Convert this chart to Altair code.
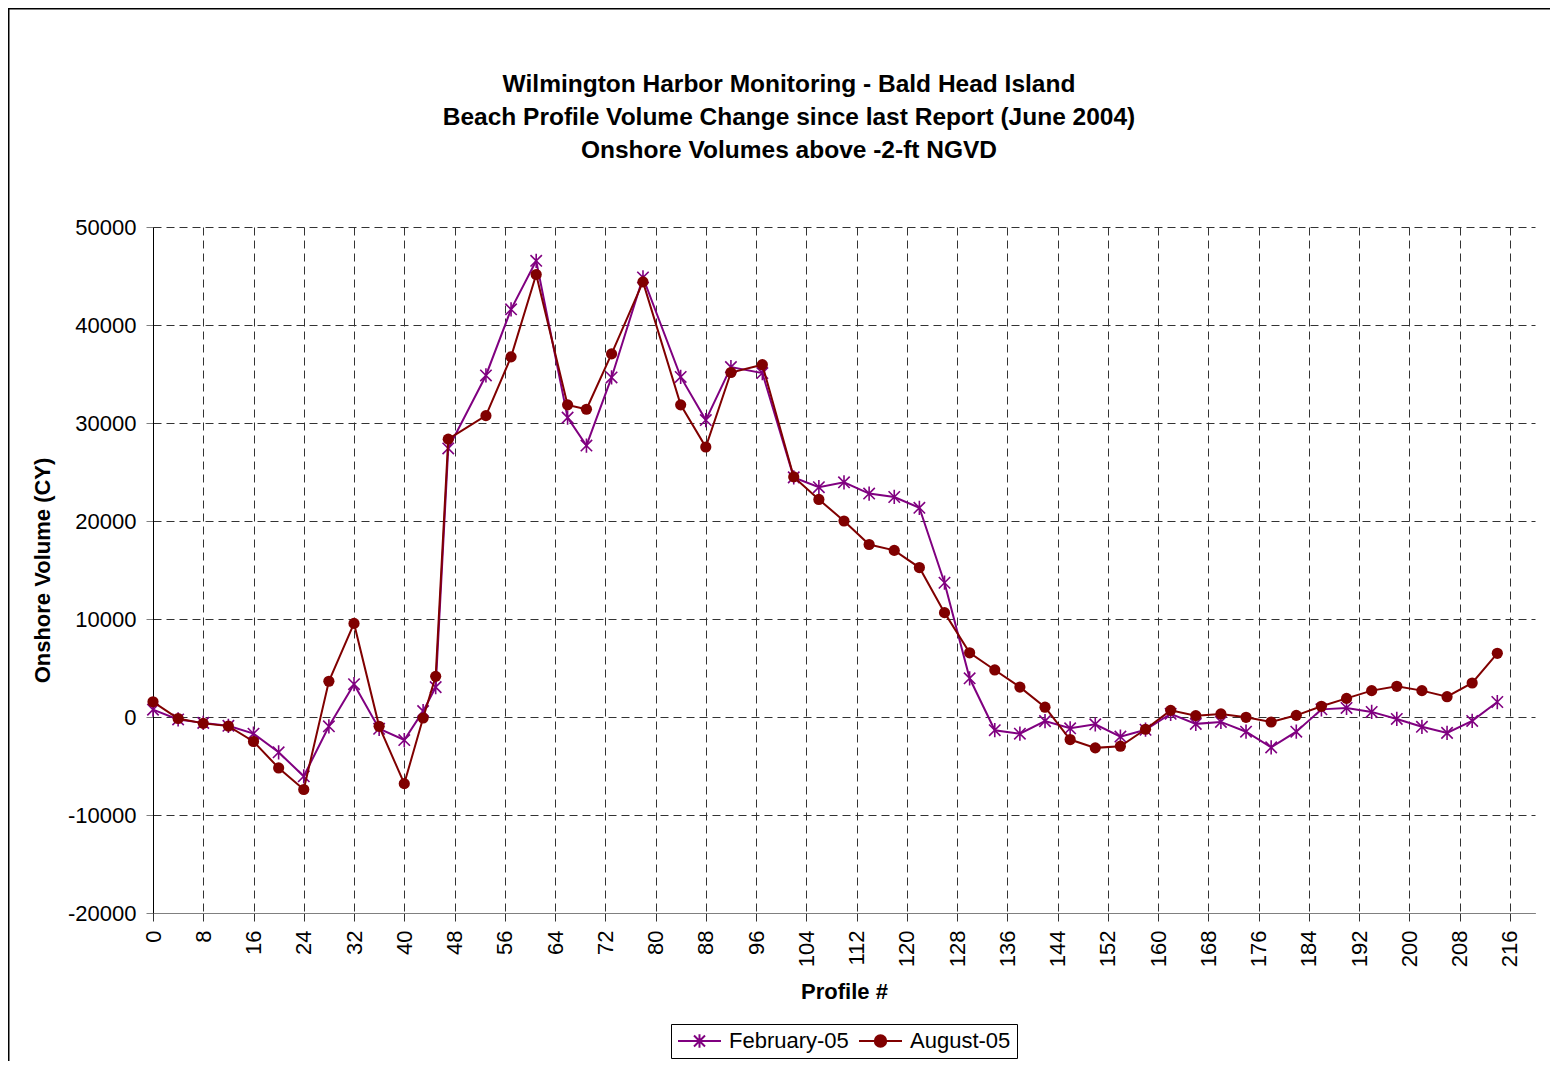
import altair as alt
import pandas as pd

# ---------------- data ----------------
profiles = [0, 4, 8, 12, 16, 20, 24, 28, 32, 36, 40, 43, 45, 47, 53, 57, 61, 66, 69, 73,
            78, 84, 88, 92, 97, 102, 106, 110, 114, 118, 122, 126, 130, 134, 138, 142,
            146, 150, 154, 158, 162, 166, 170, 174, 178, 182, 186, 190, 194, 198, 202,
            206, 210, 214]

feb_05 = [750, -250, -600, -900, -1700, -3600, -6050, -950, 3350, -1200, -2350, 600,
          3050, 27400, 34850, 41600, 46550, 30550, 27700, 34650, 44850, 34700, 30300,
          35700, 35100, 24450, 23450, 23950, 22800, 22450, 21350, 13700, 3950, -1350,
          -1700, -420, -1150, -750, -2000, -1300, 330, -700, -500, -1500, -3100, -1500,
          780, 920, 520, -200, -1000, -1620, -400, 1530]

aug_05 = [1550, -150, -650, -930, -2500, -5200, -7400, 3650, 9550, -950, -6800, -100,
          4150, 28350, 30750, 36750, 45150, 31850, 31400, 37050, 44400, 31850, 27550,
          35150, 35950, 24500, 22200, 20000, 17600, 17000, 15250, 10650, 6550, 4800,
          3050, 1000, -2300, -3150, -2980, -1250, 680, 140, 310, -30, -510, 170, 1090,
          1900, 2690, 3130, 2690, 2070, 3470, 6500]

series_names = ["February-05", "August-05"]
series_colors = ["#800080", "#800000"]

x_ticks = list(range(0, 217, 8))
y_ticks = list(range(-20000, 50001, 10000))

title_lines = [
    "Wilmington Harbor Monitoring - Bald Head Island",
    "Beach Profile Volume Change since last Report (June 2004)",
    "Onshore Volumes above -2-ft NGVD",
]

# ---------------- table ----------------
rows = []
for p, f, a in zip(profiles, feb_05, aug_05):
    rows.append({"profile": p, "volume": f, "series": series_names[0]})
    rows.append({"profile": p, "volume": a, "series": series_names[1]})
df = pd.DataFrame(rows)

FONT = "Liberation Sans"
W, H = 1382, 686

ASTER = "M-1,-1L1,1M-1,1L1,-1M0,-1.25L0,1.25"
# legend symbols: a line segment with the marker in its middle (1 unit = 10 px)
LEG_FEB = "M-1,0L3.3,0M0.6,-0.55L1.7,0.55M0.6,0.55L1.7,-0.55M1.15,-0.68L1.15,0.68"
LEG_AUG = "M-1,0L3.3,0M1.72,0A0.57,0.57 0 1,1 0.58,0A0.57,0.57 0 1,1 1.72,0Z"

x_enc = alt.X(
    "profile:Q",
    scale=alt.Scale(domain=[0, 220], nice=False, zero=False),
    axis=alt.Axis(
        values=x_ticks, labelAngle=270, title="Profile #",
        grid=True, gridDash=[8, 5], gridColor="#333333", gridWidth=1,
        domainColor="#808080", tickColor="#333333", tickSize=8,
        labelPadding=9, titlePadding=15,
    ),
)
y_enc = alt.Y(
    "volume:Q",
    scale=alt.Scale(domain=[-20000, 50000], nice=False, zero=False),
    axis=alt.Axis(
        values=y_ticks, labelExpr="datum.value + ''", title="Onshore Volume (CY)",
        grid=True, gridDash=[8, 5], gridColor="#333333", gridWidth=1,
        domainColor="#000000", tickColor="#808080", tickSize=7,
        labelPadding=10, titlePadding=13,
    ),
)

base = alt.Chart(df).encode(x=x_enc, y=y_enc)

feb = base.transform_filter(alt.datum.series == series_names[0])
aug = base.transform_filter(alt.datum.series == series_names[1])

feb_line = feb.mark_line(color=series_colors[0], strokeWidth=2)
feb_pts = feb.mark_point(shape=ASTER, size=130, filled=False, color=series_colors[0],
                         strokeWidth=1.6, opacity=1)
aug_line = aug.mark_line(color=series_colors[1], strokeWidth=2)
aug_pts = aug.mark_circle(size=125, color=series_colors[1], opacity=1)

leg = alt.Legend(
    title=None, orient="none", legendX=518, legendY=797, direction="horizontal",
    strokeColor="#000000", padding=6, symbolSize=400, symbolStrokeWidth=2,
    labelFontSize=22, labelFont=FONT, labelColor="#000000", labelOffset=30,
    columnPadding=6, labelLimit=400,
)
legend_layer = base.transform_filter("false").mark_point(opacity=1, filled=False).encode(
    stroke=alt.Stroke("series:N", scale=alt.Scale(domain=series_names, range=series_colors), legend=leg),
    fill=alt.Fill("series:N", scale=alt.Scale(domain=series_names, range=series_colors), legend=leg),
    shape=alt.Shape("series:N", scale=alt.Scale(domain=series_names, range=[LEG_FEB, LEG_AUG]), legend=leg),
)

one_row = pd.DataFrame({"k": [0]})

frame = alt.Chart(one_row).mark_rect(
    fill="transparent", stroke="#000000", strokeWidth=3
).encode(
    x=alt.value(-145), x2=alt.value(W + 60), y=alt.value(-219), y2=alt.value(H + 250)
)

title_text = alt.Chart(one_row).mark_text(
    font=FONT, fontSize=24.5, fontWeight="bold", lineHeight=33, align="center",
    baseline="alphabetic", color="#000000",
).encode(
    x=alt.value(636), y=alt.value(-135), text=alt.value(title_lines)
)

chart = alt.layer(
    frame, title_text, feb_line, feb_pts, aug_line, aug_pts, legend_layer
).properties(
    width=W, height=H,
    autosize=alt.AutoSizeParams(type="none"),
    padding={"left": 145, "top": 219, "right": 15, "bottom": 148},
).configure_view(
    stroke=None
).configure_axis(
    labelFont=FONT, labelFontSize=22, labelColor="#000000",
    titleFont=FONT, titleFontSize=22, titleFontWeight="bold", titleColor="#000000",
)

chart.save("out.html", embed_options={"renderer": "svg", "actions": False})
